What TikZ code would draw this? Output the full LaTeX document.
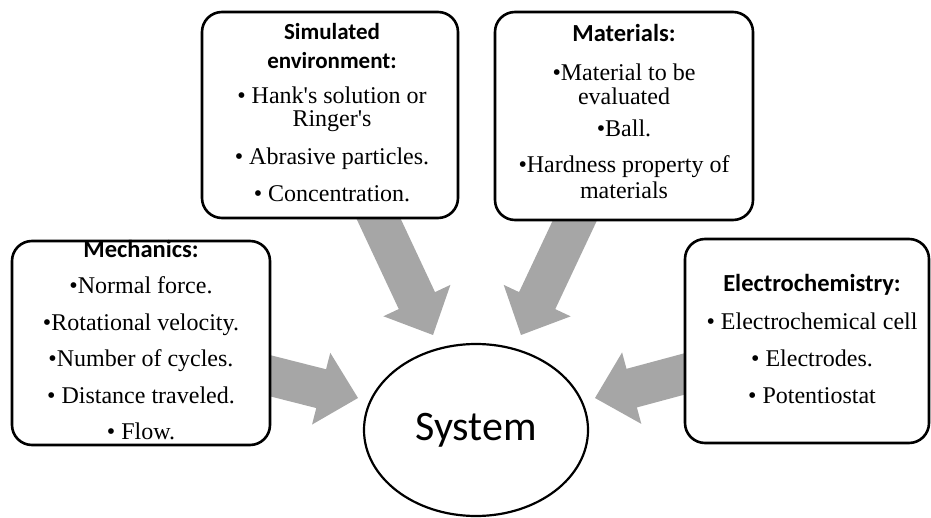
\documentclass[tikz,border=0pt]{standalone}
\usepackage{fontspec}
\setmainfont{Liberation Serif}
\newfontfamily\headfont{Carlito}
\usetikzlibrary{calc,backgrounds,shapes.geometric}
\definecolor{arrowgray}{HTML}{A6A6A6}
\tikzset{
  box/.style={draw=black, line width=2.6pt, rounded corners=20pt, fill=white, inner sep=0pt},
  boxtext/.style={anchor=base, align=center, inner sep=0pt, font=\fontsize{24}{24}\selectfont},
  sysnode/.style={draw=black, line width=2.2pt, ellipse, fill=white, inner sep=0pt,
    minimum width=224pt, minimum height=172pt},
}
\newcommand{\hd}[1]{{\headfont\bfseries\fontsize{24.5}{24}\selectfont #1}}
\newcommand{\hds}[1]{{\headfont\bfseries\fontsize{23}{24}\selectfont #1}}
\newcommand{\blockarrow}[2]{%
  \path coordinate (hb) at ($(#2)!38pt!(#1)$);
  \fill[arrowgray] ($(#1)!20pt!90:(#2)$) -- ($(hb)!20pt!90:(#2)$) -- ($(hb)!37pt!90:(#2)$)
    -- (#2) -- ($(hb)!37pt!-90:(#2)$) -- ($(hb)!20pt!-90:(#2)$) -- ($(#1)!20pt!-90:(#2)$) -- cycle;}
\begin{document}
\begin{tikzpicture}[x=1pt,y=-1pt]
\useasboundingbox (0,0) rectangle (931,518);
% boxes
\node[box, minimum width=258pt, minimum height=204pt] (mech) at (141,343) {};
\node[box, minimum width=256pt, minimum height=206pt] (sim) at (330,115) {};
\node[box, minimum width=258pt, minimum height=208pt] (mat) at (624,116) {};
\node[box, minimum width=244pt, minimum height=204pt] (elec) at (807,341) {};
\node[sysnode] (sys) at (476,430) {\headfont\fontsize{42}{42}\selectfont System};
% texts (anchored at the baseline of their last line)
\node[boxtext] (mecht) at (141,439.5) {\hd{Mechanics:}\\[12pt]
  •Normal force.\\[12.5pt] •Rotational velocity.\\[12.5pt] •Number of cycles.\\[12.5pt]
  • Distance traveled.\\[12.5pt] • Flow.};
\node[boxtext] (simt) at (332,202) {\hds{Simulated}\\[5pt]\hds{environment:}\\[11pt]
  • Hank\textquotesingle s solution or\\[-1pt] Ringer\textquotesingle s\\[14pt]
  • Abrasive particles.\\[13pt] • Concentration.};
\node[boxtext] (matt) at (624,199) {\hd{Materials:}\\[15pt]
  •Material to be\\ evaluated\\[8pt] •Ball.\\[12pt] •Hardness property of\\[2pt] materials};
\node[boxtext] (elect) at (812,403) {\hd{Electrochemistry:}\\[14pt]
  • Electrochemical cell\\[13pt] • Electrodes.\\[13pt] • Potentiostat};
% arrow tips
\coordinate (t1) at (358,398);
\coordinate (t2) at (433,335);
\coordinate (t3) at (521,335);
\coordinate (t4) at (595,398);
\begin{scope}[on background layer]
  \blockarrow{mech.center}{t1}
  \blockarrow{sim.center}{t2}
  \blockarrow{mat.center}{t3}
  \blockarrow{elec.center}{t4}
\end{scope}
\end{tikzpicture}
\end{document}
